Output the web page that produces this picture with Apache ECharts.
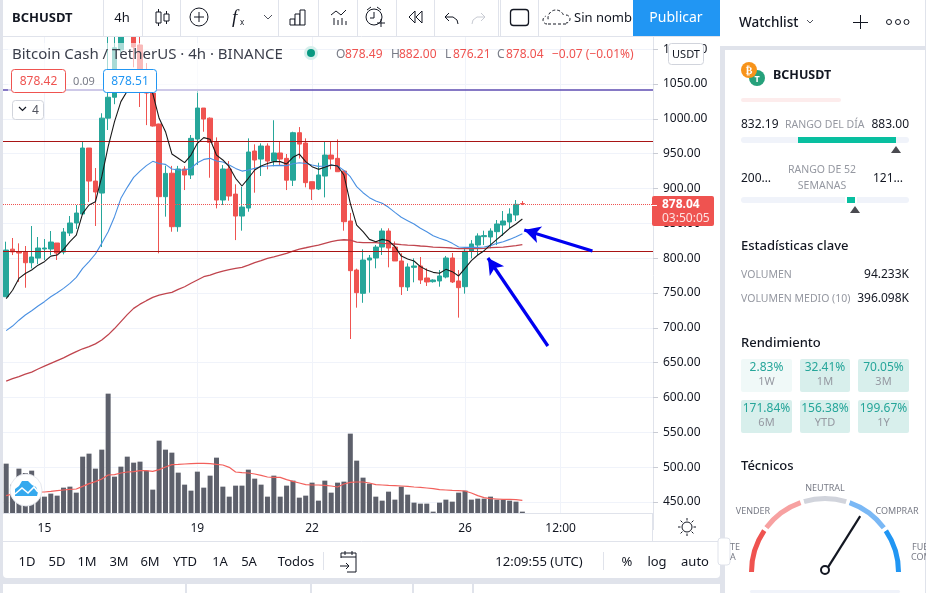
<!DOCTYPE html>
<html>
<head>
<meta charset="utf-8">
<style>html,body{margin:0;padding:0;background:#e0e3eb;overflow:hidden}#c{width:926px;height:593px}</style>
<script src="https://cdn.jsdelivr.net/npm/echarts@6/dist/echarts.min.js"></script>
</head>
<body>
<div id="c"></div>
<script>
const opens=[744.7,813,809.3,809.3,793.5,800.2,813.2,813.2,821.8,808.8,836.1,850.5,863.4,958.1,910.7,893.5,1001,1031,1099,1125,1125,1106,1070,1037,992.6,888.3,922,845.2,928,919.4,971,1015.5,1001,966.2,883.5,928,892,860.5,872,953.8,942.3,961,939.4,951,943.3,912,980.1,965.3,909.8,899.3,917.9,948,943.3,925,853.4,783,749.6,797.4,800.3,816,839,816,796,758.7,786.9,788.8,771.6,766.3,767.3,773,800.3,767.3,759.1,809.9,818.9,830.9,830.4,838.1,847.6,852,862,878.49];
const closes=[811.7,809,807.4,793.5,801.7,814.6,814.6,823.2,807.4,837.6,850.5,864.8,958.1,910.7,895,1001,1031,1102,1125,1145,1103,1070,1037,989.7,888.3,921.7,845.2,928,919.4,972,1015.5,999.7,966.2,883.5,928,889.2,860.5,873.4,952.4,940.9,961,939.4,951,942.3,912,980.1,963.8,908.4,899.3,919.4,948,942.3,924.1,852.4,782.1,750.5,797.4,800.3,816,839,814.6,796,759.1,787.4,788.8,768.7,765.9,768.7,774.5,800.3,765.9,757.7,809.9,820.4,831.9,832.4,839,849.1,853.4,863.4,877.3,878.04];
const lows=[744.7,804.5,766,757.6,785.4,791.6,797.4,804.5,797.4,805.5,831.8,841.9,862,880.6,846.2,816,984,1021,1095,1120,1074,1017,991,989,807,859.6,838,838,897.8,913.6,933.7,981.5,915.5,871.5,876.3,882.5,826,839.5,866.7,894,918,927.5,932,933.7,897.8,903.6,943,901.7,883.5,897.8,887.3,927.5,924,839.5,684,729,736,750.5,785.5,804.6,786.9,796,747.2,752.9,765.4,763,760.1,764.9,759.1,771.1,764.4,714.7,749.1,799.8,804.6,818.9,814.2,818.9,831.9,842.9,853.4,876.21];
const highs=[823.7,829,821.3,817.5,846.2,830.4,827.5,839,821.8,843.3,860.5,876.3,966.7,958.1,929.4,1008,1125,1125,1140,1160,1140,1119,1080,1045,993,932.8,932.5,932.5,932,976.8,1040,1015.5,1002,973.4,933.7,939.4,906,902.6,972,963.4,964.8,964.8,998,967.2,949.5,981.5,988.2,972,910,937,968,967.2,970.5,925.6,865,785,812.7,804.6,819,842.9,842.9,824,807,792.6,799.8,801.7,785.5,769.7,783,803.2,807.5,783,814.2,826,835.7,839.5,842.9,854.8,867.7,871.6,883.5,882];
const volumes=[987,567,887,800,847,500,327,387,347,507,527,407,1127,1187,887,1267,2387,727,927,1127,1007,1027,847,467,1447,1267,1207,807,567,447,827,507,747,1107,527,327,547,547,867,687,567,327,747,327,547,647,307,347,607,247,647,407,607,627,1587,1047,707,587,327,247,427,267,527,367,207,187,187,27,207,267,227,407,447,267,287,287,327,267,267,247,227,27];
const maBlack=[742,754,771,778,783,790,795,803,804.5,812.7,823.7,833.2,864.3,876.3,881,917,960,996,1024.7,1040,1055,1058,1050,1036.6,1000.8,981.6,949.6,943.4,937.2,948,964.9,973,970.6,948,941,931.4,914.7,903.6,914.7,926.6,932.4,936,938.6,938.6,935.2,944.8,949.5,938.6,931.4,927.5,930.4,933.7,932.3,919.4,878.8,847.6,838,827,823.7,827,825,816.6,803,798.9,796,787.9,783,779.7,778.3,784,780.7,774.5,785.5,796.5,804.6,810.8,819,827,834.7,842.9,849,856.3];
const maBlue=[696,702.6,711,718.4,724.6,731.3,737.6,744.7,750.5,756.7,763.9,772.5,785.4,795,806,821.3,838,859.6,885.9,901.7,916,925,932.8,939,936,934.7,928,926.5,926.5,928.9,937,941.8,943.3,939.4,938,933.7,928.9,925,926.5,928.9,931.3,932.3,932.8,933.2,932.8,935.6,937,936,933.7,931.8,932.3,933.7,932.3,926,917,902.7,894,886.9,882,878.8,873,865.8,858.7,853.9,849,842.9,838,832.3,828.5,825.6,821.3,816,815.6,815.6,815.6,816,818,821.3,823.7,827,830.9,835.2];
const maRed=[623.7,627,630,633.5,636.5,641,645,649,653,657,661.5,666,670,673,677,682.6,690,699,709,719,728,734,739,743.8,747,749,751,755.3,759,764,768.7,773.4,775.8,779,781.6,783.5,785.4,786.8,790,793.5,796.4,799.8,802,804.5,807,810.3,813.1,815,817,818.9,821.3,823.7,825.6,826.5,826,823,822.3,822.3,822.3,821.3,820.9,820.4,819.4,818.9,818.5,817.5,817,816,815.6,815.1,814.6,813.7,813.7,814.2,813.7,814.2,815.1,815.6,816,817,818,819.4];
const volMa=[347,380,400,413,420,420,420,433,447,460,473,480,533,587,627,680,760,767,800,820,827,847,847,833,867,920,967,973,980,987,993,993,987,973,960,913,820,807,800,780,753,720,713,713,667,633,600,567,560,560,553,540,520,580,613,620,620,600,567,560,553,547,540,533,520,513,500,487,467,460,453,447,440,400,347,307,287,280,273,273,267,253];
const xTickIndexes=[6,30,48,72,87];
const xTickLabels=['15','19','22','26','12:00'];
const yTicksHidden=[400,1150];
const hLevels=[967.3,809.8];
const purpleLevel=1041.4;
const lastPrice=878.04;
const arrowA=[[92,810.3],[81.3,840.4]];
const arrowB=[[85,674],[75.6,800.3]];
const gaugeValue=0.679;
const slotCount=102;
const categories=Array.from({length:slotCount},(_,i)=>String(i));

const FONT='"Noto Sans"';
const graphics=[];
function add(e,z){e.z=z===undefined?100:z;e.silent=true;graphics.push(e);return e;}
function T(x,y,text,o){o=o||{};add({type:'text',x:x,y:y+2,style:{text:text,fill:o.color||'#131722',font:(o.style||'normal')+' '+(o.weight||'normal')+' '+(o.size||12)+'px '+(o.font||FONT),textAlign:o.align||'left',textVerticalAlign:'middle',opacity:o.opacity===undefined?1:o.opacity}},o.z);}
function R(x,y,w,h,fill,o){o=o||{};add({type:'rect',shape:{x:x,y:y,width:w,height:h,r:o.r||0},style:{fill:fill,stroke:o.stroke||null,lineWidth:o.lw||0,opacity:o.opacity===undefined?1:o.opacity}},o.z);}
function L(x1,y1,x2,y2,c,lw,o){o=o||{};add({type:'line',shape:{x1:x1,y1:y1,x2:x2,y2:y2},style:{stroke:c,lineWidth:lw||1,lineDash:o.dash||null}},o.z);}
function P(pts,c,lw){add({type:'polyline',shape:{points:pts},style:{stroke:c,lineWidth:lw||1,fill:null}});}
function G(pts,fill){add({type:'polygon',shape:{points:pts},style:{fill:fill}});}
function C(cx,cy,r,fill,stroke,lw){add({type:'circle',shape:{cx:cx,cy:cy,r:r},style:{fill:fill||null,stroke:stroke||null,lineWidth:lw||0}});}
function A(cx,cy,r,s,e,c,lw,dash){add({type:'arc',shape:{cx:cx,cy:cy,r:r,startAngle:s,endAngle:e},style:{stroke:c,lineWidth:lw||1,fill:null,lineDash:dash||null}});}

const BG='#e0e3eb', INK='#131722', GREY='#9598a1', TEAL='#26a69a', RED='#ef5350', BLUE='#2196f3';

/* panels under the chart */
R(3,0,717,578,'#ffffff',{z:-10,r:4});
R(720,0,5,46,'#ffffff',{z:-10});
R(725,0,200,46,'#ffffff',{z:-10});
R(725,50,200,543,'#ffffff',{z:-10});
R(3,584,182,9,'#ffffff',{z:-10});R(187,584,123,9,'#ffffff',{z:-10});R(312,584,100,9,'#ffffff',{z:-10});R(414,584,58,9,'#ffffff',{z:-10});R(474,584,246,9,'#ffffff',{z:-10});

/* legend wash over candles */
R(8,43,282,50,'#ffffff',{opacity:0.6,z:20});

/* top toolbar */
R(3,0,717,36,'#ffffff');
L(3,36.5,720,36.5,BG,1);
[103,142,180,278,318,357,396,434,498,500,538].forEach(x=>L(x+.5,0,x+.5,36,BG,1));
T(12,16,'BCHUSDT',{weight:'bold',size:13});
T(122,16,'4h',{align:'center',size:13});
// candles icon
L(158.5,9,158.5,26,INK,1);R(156,12,5,11,'#ffffff',{stroke:INK,lw:1});
L(166.5,11,166.5,24,INK,1);R(164,14,5,7,'#ffffff',{stroke:INK,lw:1});
// compare icon
C(199,17,9,null,INK,1);L(194,17,204,17,INK,1);L(199,12,199,22,INK,1);
// fx
T(232,16,'f',{style:'italic',size:19,font:'"Liberation Serif"'});T(240,21,'x',{size:8});
P([[264,15],[268,19],[272,15]],'#50535e',1);
// templates bars
R(290,19,5,6,'#fff',{stroke:INK,lw:1});R(295,14,5,11,'#fff',{stroke:INK,lw:1});R(300,10,5,15,'#fff',{stroke:INK,lw:1});
// indicator icon
P([[331,15],[336,11],[341,15],[346,10]],INK,1);L(334,18,334,25,INK,1);L(338,20,338,25,INK,1);L(342,18,342,25,INK,1);L(346,21,346,25,INK,1);
// alarm
A(374,17,8,0,Math.PI*2,INK,1);P([[374,12],[374,18],[370,18]],INK,1);L(367,10,371,7,INK,1);L(381,10,377,7,INK,1);L(381,19,381,27,INK,1);L(377,23,385,23,INK,1);
// replay
P([[415,11],[409,17],[415,23],[415,11]],INK,1);P([[422,11],[416,17],[422,23],[422,11]],INK,1);
// undo / redo
P([[449,13],[445,17],[449,21]],INK,1);P([[445,17],[453,17],[457,20],[458,24]],INK,1);
P([[481,13],[485,17],[481,21]],'#c8cbd3',1);P([[485,17],[477,17],[473,20],[472,24]],'#c8cbd3',1);
// layout square
R(510.5,9.5,18,16,'#ffffff',{stroke:INK,lw:1.3,r:3});
// dashed cloud
A(556,18,8,Math.PI*0.95,Math.PI*1.95,INK,1,[3,2]);A(547,20,4,Math.PI*.5,Math.PI*1.4,INK,1,[3,2]);A(566,19,4,-Math.PI*.5,Math.PI*.5,INK,1,[3,2]);L(548,24,566,24,INK,1,{dash:[3,2]});
T(574,16,'Sin nombre',{size:13});
R(633,0,87,36,BLUE);
T(676,16,'Publicar',{align:'center',size:14,color:'#ffffff'});

/* symbol legend */
T(12,53,'Bitcoin Cash / TetherUS · 4h · BINANCE',{size:15,color:'#3a3e4a',z:30});
C(311,53,7,'#d6efec');C(311,53,4,'#089981');
[['O',336],['H',391],['L',445],['C',497]].forEach(a=>T(a[1],53,a[0],{size:12,color:'#787b86'}));
[['878.49',345],['882.00',399],['876.21',453],['878.04',506],['−0.07 (−0.01%)',552]].forEach(a=>T(a[1],53,a[0],{size:12,color:RED}));
R(11.5,69.5,54,23,'#ffffff',{stroke:RED,lw:1,r:3});T(38.5,80,'878.42',{align:'center',size:12,color:RED});
T(84,80,'0.09',{align:'center',size:11,color:'#787b86'});
R(103.5,69.5,53,23,'#ffffff',{stroke:BLUE,lw:1,r:3});T(130,80,'878.51',{align:'center',size:12,color:BLUE});
R(12.5,100.5,31,19,'#ffffff',{stroke:'#d1d4dc',lw:1,r:3});P([[19,107],[22.5,110.5],[26,107]],INK,1.2);T(32,109,'4',{size:12,color:'#50535e'});
R(668.5,43.5,35,21,'#ffffff',{stroke:'#d1d4dc',lw:1,r:3});T(686,53,'USDT',{align:'center',size:11});

/* last-price tag */
R(652,196,62,30,RED,{r:2});
L(652,205.5,657,205.5,'#ffffff',1);
T(662,203,'878.04',{size:12,color:'#ffffff',weight:'bold'});
T(662,217,'03:50:05',{size:12,color:'#fde3e2'});

/* bubble logo */
C(26,490,16,'#ffffff','#e6e8ee',1);
add({type:'polygon',shape:{points:[[15,496],[15,489],[19,486],[22,481],[28,481],[32,485],[36,487],[38,492],[37,496]]},style:{fill:'#35a9ee'}});
P([[15,494],[22,488],[28,493],[34,487],[38,492]],'#ffffff',1.6);

/* axis corner + separators */
R(653,530,10,11,'#ffffff');
L(652.5,513,652.5,541,BG,1);
L(3,541.5,720,541.5,BG,1);
C(687,527,5,null,INK,1);
[[687,518,687,520.5],[687,533.5,687,536],[678,527,680.5,527],[693.5,527,696,527],[680.6,520.6,682.4,522.4],[691.6,531.6,693.4,533.4],[680.6,533.4,682.4,531.6],[691.6,522.4,693.4,520.6]].forEach(a=>L(a[0],a[1],a[2],a[3],INK,1));

/* bottom toolbar */
[['1D',27],['5D',57],['1M',87],['3M',119],['6M',150],['YTD',185],['1A',220],['5A',249],['Todos',296]].forEach(a=>T(a[1],560,a[0],{align:'center',size:13}));
L(323.5,552,323.5,570,BG,1);L(603.5,552,603.5,570,BG,1);
P([[341,558],[341,553],[356,553],[356,572],[347,572]],INK,1);L(341,557,356,557,INK,1);L(345,551,345,555,INK,1);L(352,551,352,555,INK,1);L(340,566,349,566,INK,1);P([[346,563],[349,566],[346,569]],INK,1);
T(539,560,'12:09:55 (UTC)',{align:'center',size:13});
T(627,560,'%',{align:'center',size:13});T(657,560,'log',{align:'center',size:13});T(695,560,'auto',{align:'center',size:13});

/* right panel */
T(739,21,'Watchlist',{size:13.5,weight:'500'});P([[807,20],[810,23],[813,20]],'#50535e',1);
L(860.5,15,860.5,29,INK,1);L(853,22.5,868,22.5,INK,1);
C(889,22,2.5,null,INK,1);C(898,22,2.5,null,INK,1);C(906.5,22,2.5,null,INK,1);
C(757,78,8,'#26a17b');T(757,77,'T',{size:9,color:'#fff',align:'center',weight:'bold'});
C(749,70,8,'#f7931a');T(749,69,'₿',{size:10,color:'#fff',align:'center',weight:'bold',font:'"DejaVu Sans"'});
T(773,73,'BCHUSDT',{size:12.5,weight:'bold'});
R(741,98,100,4,'#fdecec',{r:2});
T(741,123,'832.19',{size:12});T(785,123,'RANGO DEL DÍA',{size:10.5,color:GREY});T(909,123,'883.00',{size:12,align:'right'});
R(741,137,168,6,'#f0f3fa',{r:3});R(798,137,98,6,'#08bfa0');G([[896,146],[891,153],[901,153]],'#4a4a50');
T(741,177,'200…',{size:12});T(822,168,'RANGO DE 52',{size:10.5,color:GREY,align:'center'});T(822,184,'SEMANAS',{size:10.5,color:GREY,align:'center'});T(873,177,'121…',{size:12});
R(741,197,168,6,'#f0f3fa',{r:3});R(845,197,12,6,'#ffffff');R(847,197,8,6,'#08bfa0');G([[855,206],[850,213],[860,213]],'#4a4a50');
T(741,244,'Estadísticas clave',{size:13,weight:'500'});
T(741,273,'VOLUMEN',{size:10.5,color:GREY});T(909,273,'94.233K',{size:12,align:'right'});
T(741,297,'VOLUMEN MEDIO (10)',{size:10.5,color:GREY});T(909,297,'396.098K',{size:12,align:'right'});
T(741,341,'Rendimiento',{size:13,weight:'500'});
const cellX=[741,800,858],cellW=[51,50,51];
[[['2.83%','1W'],['32.41%','1M'],['70.05%','3M']],[['171.84%','6M'],['156.38%','YTD'],['199.67%','1Y']]].forEach((row,r)=>row.forEach((c,k)=>{
  const y=359+r*41;
  R(cellX[k],y,cellW[k],33,(r===0&&k===0)?'#f0f9f8':'#d8efec',{r:2});
  T(cellX[k]+cellW[k]/2,y+7,c[0],{size:12,color:TEAL,align:'center'});
  T(cellX[k]+cellW[k]/2,y+21,c[1],{size:11,color:GREY,align:'center'});
}));
T(741,464,'Técnicos',{size:13,weight:'500'});
T(753,509,'VENDER',{size:9,color:'#787b86',align:'center'});
T(825,486,'NEUTRAL',{size:9,color:'#787b86',align:'center'});
T(897,509,'COMPRAR',{size:9,color:'#787b86',align:'center'});
R(718,538,12,27,'#ffffff',{stroke:'#e0e3eb',lw:1,r:3});
T(730,545,'TE',{size:9,color:'#787b86'});T(730,555,'A',{size:9,color:'#787b86'});
T(912,545,'FUE',{size:9,color:'#787b86'});T(911,555,'COM',{size:9,color:'#787b86'});
R(750,590,150,3,'#f0f3fa',{r:2});

const chart=echarts.init(document.getElementById('c'),null,{renderer:'canvas'});
const mainGrid={left:3,top:14.33,width:650,height:522.57};
const volGrid={left:3,top:36,width:650,height:477};
const isTick=i=>xTickIndexes.indexOf(i)>=0;
chart.setOption({
  animation:false,
  backgroundColor:'transparent',
  textStyle:{fontFamily:FONT},
  grid:[mainGrid,volGrid],
  xAxis:[
    {type:'category',gridIndex:0,data:categories,axisLine:{show:false},axisTick:{show:false},axisLabel:{show:false},splitLine:{show:false}},
    {type:'category',gridIndex:1,data:categories,
      axisLine:{lineStyle:{color:BG}},axisTick:{show:false},
      axisLabel:{interval:(i)=>isTick(i),formatter:(v,i)=>{const k=xTickIndexes.indexOf(i);return k>=0?xTickLabels[k]:'';},color:'#131722',fontSize:12,margin:10,fontFamily:FONT,hideOverlap:false},
      splitLine:{show:true,interval:(i)=>isTick(i),alignWithLabel:true,lineStyle:{color:'#f0f3fa',width:1}}},
    {type:'value',gridIndex:0,min:-0.5,max:slotCount-0.5,show:false,splitLine:{show:false}}
  ],
  yAxis:[
    {type:'value',gridIndex:0,position:'right',min:400,max:1150,interval:50,scale:false,
      axisLine:{show:true,onZero:false,lineStyle:{color:BG}},
      axisTick:{show:true,length:5,lineStyle:{color:'#c9ccd4'}},
      axisLabel:{color:'#131722',fontSize:12,margin:10,padding:[4,0,0,0],fontFamily:FONT,showMinLabel:false,showMaxLabel:false,formatter:v=>yTicksHidden.indexOf(v)>=0?'':v.toFixed(2)},
      splitLine:{show:true,showMinLine:false,showMaxLine:false,lineStyle:{color:'#f0f3fa',width:1}}},
    {type:'value',gridIndex:1,min:0,max:9540,show:false,splitLine:{show:false}}
  ],
  series:[
    {type:'bar',name:'Volume',xAxisIndex:1,yAxisIndex:1,data:volumes,barWidth:5,itemStyle:{color:'#5d606b'},z:2},
    {type:'line',name:'Volume MA',xAxisIndex:1,yAxisIndex:1,data:volMa,symbol:'none',smooth:false,lineStyle:{color:'#f2605c',width:1.2},z:3},
    {type:'candlestick',name:'BCHUSDT',xAxisIndex:0,yAxisIndex:0,
      data:opens.map((o,i)=>[o,closes[i],lows[i],highs[i]]),barWidth:5,
      itemStyle:{color:TEAL,color0:RED,borderColor:TEAL,borderColor0:RED,borderWidth:1},z:4},
    {type:'line',name:'MA red',xAxisIndex:0,yAxisIndex:0,data:maRed,symbol:'none',lineStyle:{color:'#c0454e',width:1.3},z:5},
    {type:'line',name:'MA blue',xAxisIndex:0,yAxisIndex:0,data:maBlue,symbol:'none',lineStyle:{color:'#4a90e2',width:1.1},z:5},
    {type:'line',name:'MA black',xAxisIndex:0,yAxisIndex:0,data:maBlack,symbol:'none',lineStyle:{color:'#1a1a1a',width:1.1},z:6,
      markLine:{silent:true,symbol:'none',animation:false,label:{show:false},z:6,
        data:[
          ...hLevels.map(v=>({yAxis:v,lineStyle:{color:'#a81414',width:1.2,type:'solid'}})),
          {yAxis:purpleLevel,lineStyle:{color:'#5e4db2',width:1.5,type:'solid'}},
          {yAxis:lastPrice,lineStyle:{color:RED,width:1,type:'dotted'}}
        ]}},
    {type:'line',name:'Arrows',xAxisIndex:2,yAxisIndex:0,data:[],symbol:'none',z:7,
      markLine:{silent:true,animation:false,label:{show:false},z:7,symbol:['none','arrow'],symbolSize:[13,16],
        lineStyle:{color:'#0000f0',width:3.2,type:'solid'},
        data:[
          [{coord:arrowA[0]},{coord:arrowA[1]}],
          [{coord:arrowB[0]},{coord:arrowB[1]}]
        ]}},
    {type:'gauge',center:[825,572],radius:76,startAngle:180,endAngle:0,min:0,max:1,
      axisLine:{lineStyle:{width:5,color:[[0.19,'#ef5350'],[0.205,'#ffffff'],[0.392,'#f7a1a1'],[0.407,'#ffffff'],[0.593,'#d1d4dc'],[0.608,'#ffffff'],[0.795,'#7ab8f5'],[0.81,'#ffffff'],[1,'#2196f3']]}},
      axisTick:{show:false},splitLine:{show:false},axisLabel:{show:false},detail:{show:false},title:{show:false},
      pointer:{icon:'rect',length:64,width:2.2,offsetCenter:[0,-2],itemStyle:{color:'#131722'}},
      anchor:{show:true,showAbove:true,size:8,offsetCenter:[0,-2],itemStyle:{color:'#ffffff',borderColor:'#131722',borderWidth:2}},
      data:[{value:gaugeValue}],z:101}
  ],
  graphic:{elements:graphics}
});
</script>
</body>
</html>
